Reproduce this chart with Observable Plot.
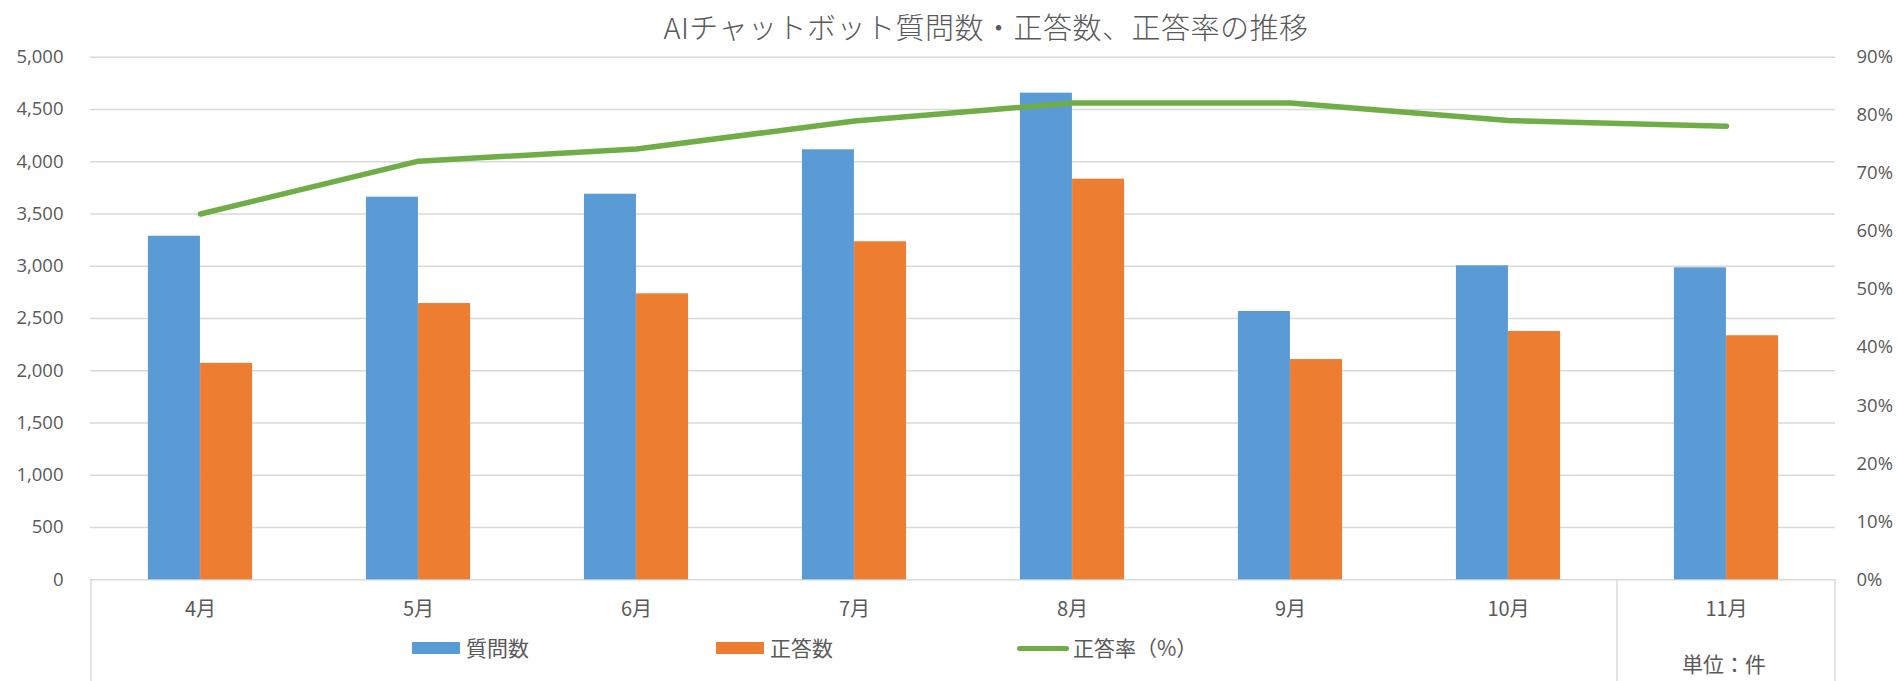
<!DOCTYPE html>
<html>
<head>
<meta charset="utf-8">
<script src="https://cdn.jsdelivr.net/npm/d3@7"></script>
<script src="https://cdn.jsdelivr.net/npm/@observablehq/plot@0.6"></script>
<style>
  html, body { margin: 0; padding: 0; background: #fff; overflow: hidden; }
  #wrap { position: relative; width: 1897px; height: 681px; }
  #title { position: relative; height: 46px; }
  #title span {
    position: absolute; left: 986px; top: 26px; transform: translate(-50%, -50%);
    font-family: "Noto Sans CJK JP", "Noto Sans", sans-serif; font-weight: 300;
    font-size: 29px; color: #595959; white-space: nowrap; letter-spacing: 0.5px;
  }
  .lg { position: absolute; font-family: "Noto Sans CJK JP", sans-serif; font-size: 21px; color: #595959; line-height: 1; white-space: nowrap; }
  .sw { position: absolute; }
</style>
</head>
<body>
<div id="wrap">
  <div id="title"><span>AIチャットボット質問数・正答数、正答率の推移</span></div>
  <div id="chart"></div>
  <div class="sw" style="left:412px;top:642px;width:48px;height:12px;background:#5B9BD5"></div>
  <div class="lg" style="left:466px;top:637px">質問数</div>
  <div class="sw" style="left:716px;top:642px;width:48px;height:12px;background:#ED7D31"></div>
  <div class="lg" style="left:770px;top:637px">正答数</div>
  <div class="sw" style="left:1017px;top:645.5px;width:52px;height:5px;border-radius:2.5px;background:#70AD47"></div>
  <div class="lg" style="left:1073px;top:637px">正答率（%）</div>
  <div class="lg" style="left:1724px;top:653px;transform:translateX(-50%)">単位：件</div>
</div>
<script>
const months = ["4月", "5月", "6月", "7月", "8月", "9月", "10月", "11月"];
const questions = [3287, 3661, 3689, 4114, 4656, 2567, 3004, 2985];
const correct = [2071, 2643, 2736, 3234, 3833, 2107, 2376, 2335];
const rate = [63.0, 72.1, 74.2, 79.0, 82.1, 82.1, 79.1, 78.1];
const countTicks = [0, 500, 1000, 1500, 2000, 2500, 3000, 3500, 4000, 4500, 5000];
const pctTicks = [0, 10, 20, 30, 40, 50, 60, 70, 80, 90];
const pctMax = 90, countMax = 5000;

const data = months.map((m, i) => ({ month: m, q: questions[i], c: correct[i], r: rate[i] }));

const W = 1897, H = 635, ML = 90, MR = 62, MT = 10.7, MB = 101.7;
const band = (W - ML - MR) / months.length;
const barW = band * 0.239;
const toCount = p => p * countMax / pctMax;

const numFont = "'Open Sans', 'Noto Sans', sans-serif";
const cjkFont = "'Noto Sans CJK JP', sans-serif";

const chart = Plot.plot({
  width: W, height: H,
  marginTop: MT, marginBottom: MB, marginLeft: ML, marginRight: MR,
  x: { domain: months, padding: 0, axis: null },
  y: { domain: [0, countMax], axis: null },
  style: { background: "#fff", color: "#595959", overflow: "visible" },
  marks: [
    Plot.ruleY(countTicks, { stroke: "#d9d9d9", strokeWidth: 1.4 }),
    Plot.barY(data, { x: "month", y: "q", fill: "#5B9BD5", insetLeft: band / 2 - barW, insetRight: band / 2 }),
    Plot.barY(data, { x: "month", y: "c", fill: "#ED7D31", insetLeft: band / 2, insetRight: band / 2 - barW }),
    Plot.lineY(data, { x: "month", y: d => toCount(d.r), stroke: "#70AD47", strokeWidth: 5.5, strokeLinecap: "round", strokeLinejoin: "round" }),
    Plot.axisY({ ticks: countTicks, tickSize: 0, tickPadding: 27, tickFormat: d3.format(","), fontSize: 18.5, fontFamily: numFont, label: null }),
    Plot.axisY({ anchor: "right", ticks: pctTicks.map(toCount), tickSize: 0, tickPadding: 21,
      tickFormat: v => Math.round(v * pctMax / countMax) + "%", fontSize: 18.5, fontFamily: numFont, label: null }),
    Plot.axisX({ tickSize: 0, tickPadding: 22, fontSize: 20, fontFamily: cjkFont, label: null })
  ]
});

document.getElementById("chart").appendChild(chart);

// category-axis frame lines below the plot, positioned with the plot's own x scale
const sx = chart.scale("x");
const sy = chart.scale("y");
const base = sy.apply(0);
const xs = [sx.apply(months[0]), sx.apply(months[months.length - 1]), sx.apply(months[months.length - 1]) + sx.bandwidth];
d3.select(chart).selectAll("line.frame").data(xs).join("line")
  .attr("class", "frame")
  .attr("x1", d => d).attr("x2", d => d)
  .attr("y1", base).attr("y2", H)
  .attr("stroke", "#d9d9d9").attr("stroke-width", 1.4);
</script>
</body>
</html>
